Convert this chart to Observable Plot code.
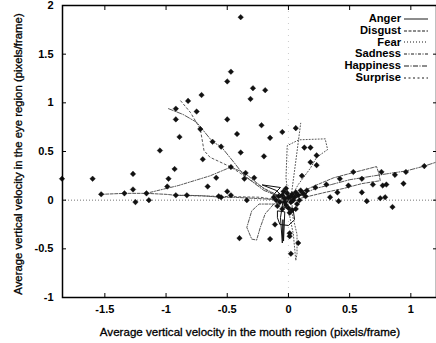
<!DOCTYPE html>
<html><head><meta charset="utf-8">
<script src="https://cdn.jsdelivr.net/npm/d3@7"></script>
<script src="https://cdn.jsdelivr.net/npm/@observablehq/plot@0.6"></script>
<style>
html,body{margin:0;padding:0;background:#fff;overflow:hidden}
#wrap{position:relative;width:436px;height:343px;font-family:"Liberation Sans",Arial,sans-serif;color:#000}
#legend{position:absolute;top:13px;right:8px;font-size:11px;font-weight:bold}
#legend .row{display:flex;align-items:center;justify-content:flex-end;height:11.8px;line-height:11.8px}
#legend svg{margin-left:3px}
.ttl{position:absolute;font-size:10px;white-space:nowrap;-webkit-text-stroke:0.3px #000;line-height:12px}
#xt{left:250px;top:326px;transform:translateX(-50%)}
#yt{left:18px;top:154px;transform:translate(-50%,-50%) rotate(-90deg)}
</style></head><body><div id="wrap"></div>
<script>
const emotions = ["Anger","Disgust","Fear","Sadness","Happiness","Surprise"];
const xTicks = [-1.5,-1,-0.5,0,0.5,1];
const yTicks = [-1,-0.5,0,0.5,1,1.5,2];
const xTitle = "Average vertical velocity in the mouth region (pixels/frame)";
const yTitle = "Average vertical velocity in the eye region (pixels/frame)";

// scatter samples (mouth velocity, eye velocity)
const samples = [
 [-1.85,0.22],[-1.60,0.22],[-1.53,0.06],[-1.34,0.07],[-1.27,0.27],[-1.27,0.11],[-1.16,0.07],[-1.25,-0.02],[-1.14,0.0],
 [-1.05,0.51],[-0.98,0.22],[-0.99,0.14],[-0.93,0.32],[-0.92,0.05],[-0.83,0.05],[-0.92,0.94],[-0.92,0.83],[-0.82,1.02],
 [-0.71,1.08],[-0.75,0.91],[-0.72,0.73],[-0.89,0.65],[-0.70,0.42],[-0.66,0.14],
 [-0.39,1.88],[-0.47,1.32],[-0.50,1.22],[-0.29,1.15],[-0.19,1.13],[-0.31,1.04],[-0.50,0.83],[-0.22,0.77],[-0.42,0.68],
 [-0.15,0.64],[-0.05,0.70],[0.06,0.74],[-0.62,0.60],[-0.55,0.55],[0.13,0.54],[0.18,0.54],
 [-0.39,0.49],[-0.20,0.45],[0.23,0.46],[0.18,0.39],[0.23,0.36],[-0.47,0.34],[-0.35,0.28],[-0.36,0.22],[-0.28,0.23],
 [-0.59,0.23],[-0.50,0.09],[-0.47,0.05],[-0.55,0.03],[-0.34,0.0],[-0.57,0.04],
 [-0.11,-0.25],[-0.40,-0.39],[-0.15,-0.40],[0.01,-0.34],[0.01,-0.37],[0.08,-0.44],[0.02,-0.55],
 [0.11,0.25],[0.15,0.10],[0.22,0.13],[0.31,0.16],[0.34,0.03],[0.41,-0.01],[0.40,0.08],[0.42,0.22],[0.53,0.29],
 [0.49,0.15],[0.60,0.22],[0.60,0.08],[0.64,-0.01],[0.69,0.16],[0.75,0.02],[0.79,0.03],[0.77,0.15],[0.80,0.16],
 [0.76,0.29],[0.85,-0.07],[0.87,0.26],[0.96,0.29],[0.94,0.17],[1.11,0.35],
 [-0.05,0.05],[-0.03,0.02],[0.0,0.03],[0.02,-0.02],[-0.02,-0.05],[0.03,0.06],[0.05,0.03],[-0.07,-0.02],
 [0.0,-0.08],[0.06,0.08],[0.08,0.05],[-0.1,0.0],[0.03,-0.1],[-0.04,0.09],[0.1,0.1],
 [-0.08,0.04],[-0.01,0.07],[0.04,0.0],[0.07,-0.04],[-0.05,-0.09],[0.01,-0.13],[0.12,0.07],[-0.12,0.03],
 [0.06,-0.09],[-0.02,0.12],[0.14,0.04],[-0.09,-0.06],[0.09,0.0],[0.02,0.04],[-0.03,-0.02]
];

// emotion trajectories (one or more pieces each)
const anger = [[
 [0.02,0.02],[-0.04,0.01],[-0.12,0.06],[-0.065,0.13],[-0.215,0.157],[-0.1,0.1],[-0.04,0.03],[-0.065,-0.18],
 [-0.05,-0.44],[-0.045,-0.2],[-0.04,-0.42],[-0.03,-0.12],[-0.09,-0.11],[-0.09,-0.18],[-0.07,-0.25],[0.0,-0.26],
 [0.05,-0.2],[0.04,-0.11],[-0.04,-0.07],[0.0,0.0],[0.08,0.04],[0.15,0.07],[0.05,0.05]
]];
const disgust = [
 [[-1.53,0.06],[-1.34,0.07],[-1.27,0.07],[-1.16,0.07],[-1.0,0.06],[-0.92,0.05],[-0.83,0.05],[-0.7,0.045],
  [-0.55,0.03],[-0.45,0.03],[-0.3,0.02],[-0.15,0.01],[0.0,0.0]],
 [[0.05,0.05],[0.2,0.14],[0.37,0.23],[0.55,0.29],[0.72,0.345],[0.74,0.27],[0.75,0.2],[0.6,0.17],[0.45,0.12],
  [0.3,0.08],[0.1,0.02]]
];
const fear = [
 [[0.0,0.0],[-0.02,0.23],[-0.01,0.56],[0.085,0.62],[0.30,0.63],[0.32,0.52],[0.23,0.44],[0.18,0.33],[0.08,0.16],
  [0.03,0.05],[0.03,-0.14],[0.07,-0.35],[0.07,-0.55],[0.06,-0.62],[0.04,-0.35],[0.0,-0.1]],
 [[0.02,0.02],[0.06,0.4],[0.1,0.79]]
];
const sadness = [
 [[-1.13,0.08],[-0.9,0.15],[-0.64,0.25],[-0.47,0.34],[-0.36,0.28],[-0.2,0.12],[0.0,0.0]],
 [[0.0,0.0],[-0.12,-0.04],[-0.24,-0.04],[-0.30,-0.11],[-0.34,-0.28],[-0.30,-0.40],[-0.26,-0.41],[-0.23,-0.28],
  [-0.19,-0.14],[-0.12,-0.04]]
];
const happiness = [
 [[0.0,0.0],[0.1,0.05],[0.22,0.12],[0.35,0.16],[0.5,0.21],[0.65,0.24],[0.8,0.27],[0.96,0.3],[1.11,0.35],[1.23,0.4]],
 [[-0.98,0.94],[-0.86,0.88],[-0.75,0.80],[-0.62,0.60],[-0.55,0.55],[-0.44,0.38],[-0.36,0.25],[-0.2,0.1],[0.0,0.0]]
];
const surprise = [
 [[-0.88,1.02],[-0.8,0.9],[-0.72,0.73],[-0.69,0.51],[-0.64,0.44],[-0.47,0.34],[-0.3,0.2],[-0.15,0.08],[0.0,0.0]],
 [[-0.92,0.05],[-0.6,0.04],[-0.23,0.03],[-0.08,0.0]]
];

const traces = {Anger: anger, Disgust: disgust, Fear: fear, Sadness: sadness, Happiness: happiness, Surprise: surprise};
const dash = {Anger: null, Disgust: "3,1.5", Fear: "1,2", Sadness: "3,1.5,1,1.5", Happiness: "5,1.5,1,1.5", Surprise: "2,2.5"};

const rows = [];
for (const name of emotions) traces[name].forEach((piece, k) => piece.forEach(([x, y]) => rows.push({name, seg: name + k, x, y})));
const pts = samples.map(([x, y]) => ({x, y}));

const fmt = d => String(d);
const blank = () => "";

const chart = Plot.plot({
  width: 436, height: 343,
  marginLeft: 62, marginTop: 5, marginBottom: 46, marginRight: 0,
  x: {domain: [-1.846, 1.226], range: [62, 438]},
  y: {domain: [-1, 2]},
  style: {fontFamily: "Liberation Sans, Arial, sans-serif", fontSize: "11px", fontWeight: "bold", color: "#000", background: "#fff"},
  marks: [
    Plot.ruleY([0], {stroke: "#777", strokeDasharray: "1,2"}),
    Plot.ruleX([0], {stroke: "#ccc", strokeDasharray: "1,5"}),
    ...emotions.map(name => Plot.line(rows.filter(r => r.name === name), {x: "x", y: "y", z: "seg", stroke: name === "Anger" ? "#111" : "#444", strokeWidth: name === "Anger" ? 1 : 0.9, strokeDasharray: dash[name], curve: "linear"})),
    Plot.dot(pts, {x: "x", y: "y", symbol: "diamond2", r: 2.5, fill: "#111", stroke: "#111", strokeWidth: 0.4}),
    Plot.axisX(xTicks, {anchor: "bottom", tickSize: 0, tickPadding: 8, tickFormat: fmt, label: null}),
    Plot.axisX(xTicks, {anchor: "bottom", tickSize: -4, tickFormat: blank, label: null, strokeWidth: 1}),
    Plot.axisX(xTicks, {anchor: "top", tickSize: -4, tickFormat: blank, label: null, strokeWidth: 1}),
    Plot.axisY(yTicks, {anchor: "left", tickSize: 0, tickPadding: 9, tickFormat: fmt, label: null}),
    Plot.axisY(yTicks, {anchor: "left", tickSize: -4, tickFormat: blank, label: null, strokeWidth: 1}),
    Plot.axisY(yTicks, {anchor: "right", tickSize: -4, tickFormat: blank, label: null, strokeWidth: 1}),
    Plot.frame({stroke: "#000", strokeWidth: 1.5})
  ]
});

const wrap = document.getElementById("wrap");
wrap.appendChild(chart);

// axis titles, fitted to the lengths they span in the reference
for (const [id, txt, span] of [["xt", xTitle, 300], ["yt", yTitle, 282]]) {
  const d = document.createElement("div");
  d.className = "ttl"; d.id = id; d.textContent = txt;
  wrap.appendChild(d);
  const w = d.offsetWidth;
  if (w > 0) d.style.fontSize = (10 * span / w).toFixed(2) + "px";
}

const legend = document.createElement("div");
legend.id = "legend";
const spans = [];
for (const name of emotions) {
  const row = document.createElement("div");
  row.className = "row";
  const t = document.createElement("span");
  t.textContent = name;
  spans.push(t);
  row.appendChild(t);
  const s = d3.create("svg").attr("width", 24).attr("height", 6);
  s.append("line").attr("x1", 0).attr("x2", 24).attr("y1", 3).attr("y2", 3)
    .attr("stroke", "#1a1a1a").attr("stroke-width", 1).attr("stroke-dasharray", dash[name]);
  row.appendChild(s.node());
  legend.appendChild(row);
}
wrap.appendChild(legend);
const hw = spans[4].offsetWidth;
if (hw > 0) legend.style.fontSize = (11 * 57 / hw).toFixed(2) + "px";
</script>
</body></html>
